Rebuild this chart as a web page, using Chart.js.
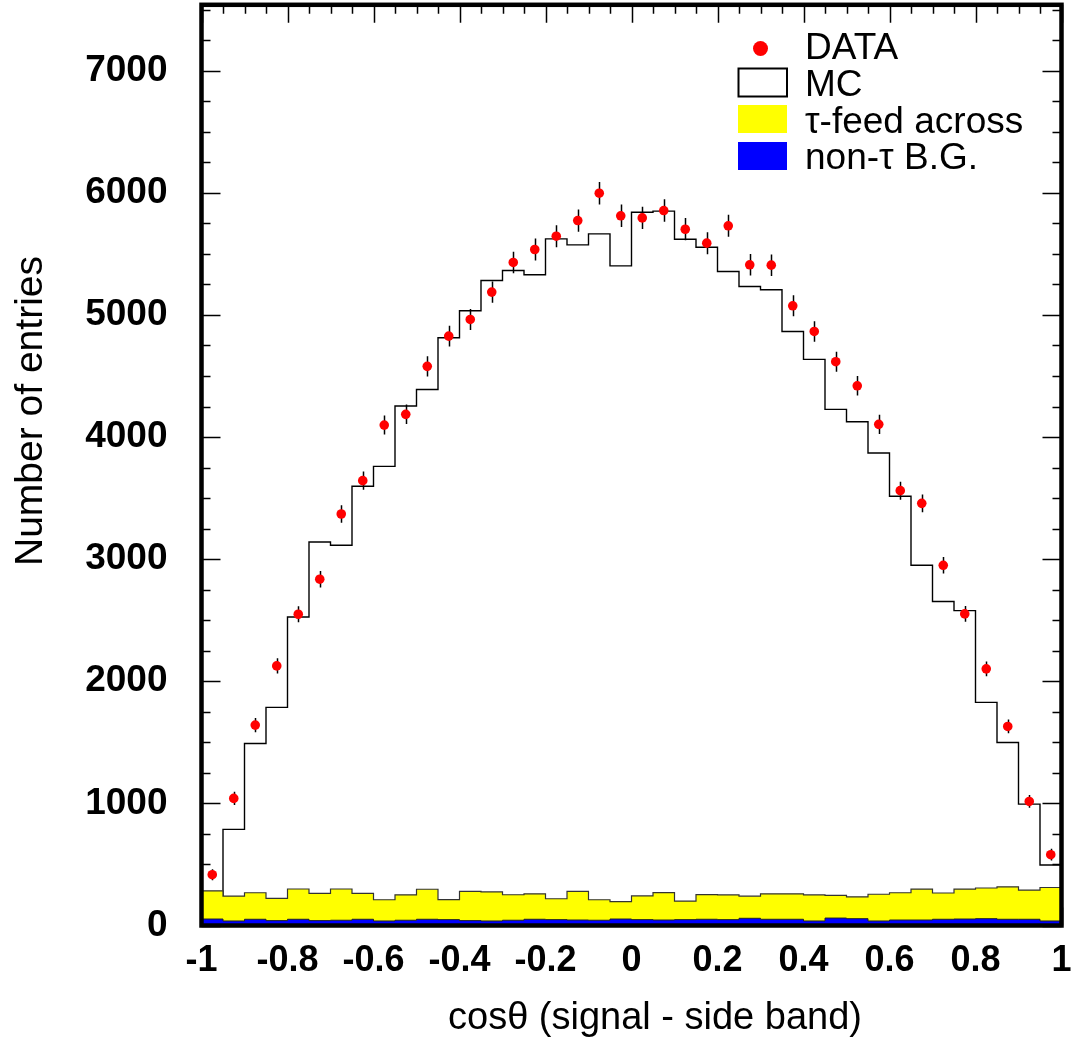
<!DOCTYPE html>
<html>
<head>
<meta charset="utf-8">
<script src="https://cdn.jsdelivr.net/npm/chart.js@4.4.0/dist/chart.umd.min.js"></script>
<style>
  html, body { margin: 0; padding: 0; background: #fff; }
  canvas { display: block; }
</style>
</head>
<body>
<canvas id="cosChart" width="1072" height="1038"></canvas>
<script>
// bin edges of cos(theta), 40 bins
const binEdges = [-1, -0.95, -0.9, -0.85, -0.8, -0.75, -0.7, -0.65, -0.6, -0.55,
                  -0.5, -0.45, -0.4, -0.35, -0.3, -0.25, -0.2, -0.15, -0.1, -0.05,
                  0, 0.05, 0.1, 0.15, 0.2, 0.25, 0.3, 0.35, 0.4, 0.45,
                  0.5, 0.55, 0.6, 0.65, 0.7, 0.75, 0.8, 0.85, 0.9, 0.95, 1];

// DATA (signal - side band)
const dataCounts = [416, 1041, 1641, 2126, 2549, 2836, 3370, 3643, 4098, 4186,
                    4579, 4827, 4963, 5187, 5430, 5536, 5645, 5773, 5997, 5812,
                    5795, 5855, 5702, 5588, 5730, 5411, 5408, 5075, 4865, 4617,
                    4420, 4104, 3561, 3457, 2950, 2552, 2102, 1630, 1016, 580];
const dataErrors = [45, 55, 58, 62, 65, 68, 72, 74, 78, 80,
                    82, 85, 86, 88, 88, 90, 90, 91, 92, 92,
                    92, 92, 91, 90, 90, 88, 88, 86, 84, 82,
                    80, 78, 74, 72, 68, 64, 60, 56, 52, 48];

// MC histogram
const mcCounts = [240, 787, 1491, 1786, 2527, 3141, 3114, 3597, 3760, 4254,
                  4390, 4813, 5034, 5282, 5364, 5329, 5623, 5574, 5664, 5402,
                  5841, 5850, 5620, 5555, 5356, 5233, 5206, 4865, 4636, 4227,
                  4126, 3869, 3515, 2950, 2653, 2579, 1827, 1499, 994, 495];

// tau feed-across (stacked on top of non-tau background)
const tauFeed = [231, 204, 217, 182, 248, 223, 256, 212, 174, 208,
                 246, 164, 240, 238, 209, 208, 171, 235, 168, 143,
                 194, 225, 152, 202, 202, 181, 208, 208, 213, 185,
                 179, 219, 223, 253, 215, 245, 251, 266, 239, 274];

// non-tau background
const nonTauBG = [53, 37, 51, 40, 51, 40, 43, 51, 37, 43,
                  51, 48, 40, 37, 43, 51, 48, 45, 43, 53,
                  48, 45, 48, 51, 48, 59, 51, 51, 37, 61,
                  56, 37, 45, 45, 51, 53, 56, 51, 51, 37];

const xTickValues = [-1, -0.8, -0.6, -0.4, -0.2, 0, 0.2, 0.4, 0.6, 0.8, 1];
const yTickValues = [0, 1000, 2000, 3000, 4000, 5000, 6000, 7000];

const FONT = "'Liberation Sans', Arial, Helvetica, sans-serif";

// step histogram points: one per left edge, plus closing point at x=1
function histPoints(values) {
    const pts = values.map((v, i) => ({ x: binEdges[i], y: v }));
    pts.push({ x: binEdges[binEdges.length - 1], y: values[values.length - 1] });
    return pts;
}

const stackTop = tauFeed.map((v, i) => v + nonTauBG[i]);
const dataPoints = dataCounts.map((v, i) => ({
    x: (binEdges[i] + binEdges[i + 1]) / 2,
    y: v,
    err: dataErrors[i]
}));

// axis labels must not push the frame inwards
function noAutoPadding(axis) {
    axis.paddingTop = 0;
    axis.paddingBottom = 0;
    axis.paddingLeft = 0;
    axis.paddingRight = 0;
}

// inward ticks + frame like a ROOT canvas
const frameAndTicks = {
    id: 'frameAndTicks',
    beforeDatasetsDraw(chart) {
        const { ctx, chartArea: a, scales: { x, y } } = chart;
        ctx.save();
        ctx.strokeStyle = '#000';
        ctx.lineWidth = 1.5;
        ctx.beginPath();
        for (let v = 0; v <= y.max; v += 250) {
            const py = Math.round(y.getPixelForValue(v)) + 0.5;
            const len = v % 1000 === 0 ? 19 : 9;
            ctx.moveTo(a.left, py); ctx.lineTo(a.left + len, py);
            ctx.moveTo(a.right, py); ctx.lineTo(a.right - len, py);
        }
        for (let k = 0; k <= 40; k++) {
            const v = -1 + k * 0.05;
            const px = Math.round(x.getPixelForValue(v)) + 0.5;
            const len = k % 4 === 0 ? 18 : 9;
            ctx.moveTo(px, a.top); ctx.lineTo(px, a.top + len);
            ctx.moveTo(px, a.bottom); ctx.lineTo(px, a.bottom - len);
        }
        ctx.stroke();
        ctx.restore();
    },
    beforeDatasetDraw(chart, args) {
        if (chart.data.datasets[args.index].label !== 'DATA') return;
        const { ctx, scales: { x, y } } = chart;
        ctx.save();
        ctx.strokeStyle = '#000';
        ctx.lineWidth = 1.5;
        ctx.beginPath();
        dataPoints.forEach(p => {
            const px = Math.round(x.getPixelForValue(p.x)) + 0.5;
            ctx.moveTo(px, y.getPixelForValue(p.y + p.err));
            ctx.lineTo(px, y.getPixelForValue(p.y - p.err));
        });
        ctx.stroke();
        ctx.restore();
    },
    afterDatasetsDraw(chart) {
        const { ctx, chartArea: a } = chart;
        ctx.save();
        ctx.strokeStyle = '#000';
        ctx.lineWidth = 4.5;
        ctx.strokeRect(a.left, a.top, a.right - a.left, a.bottom - a.top);
        ctx.restore();
    },
    afterDraw(chart) {
        const { ctx } = chart;
        ctx.save();
        ctx.fillStyle = '#000';

        // axis titles
        ctx.font = '38px ' + FONT;
        ctx.textAlign = 'center';
        ctx.textBaseline = 'alphabetic';
        ctx.fillText('cos\u03b8 (signal - side band)', 655, 1029);

        ctx.save();
        ctx.translate(42, 411);
        ctx.rotate(-Math.PI / 2);
        ctx.font = '39px ' + FONT;
        ctx.fillText('Number of entries', 0, 0);
        ctx.restore();

        // legend
        ctx.textAlign = 'left';
        ctx.font = '37px ' + FONT;
        ctx.fillStyle = '#ff0000';
        ctx.beginPath();
        ctx.arc(760.5, 48.5, 7.5, 0, Math.PI * 2);
        ctx.fill();

        ctx.fillStyle = '#fff';
        ctx.fillRect(738.5, 68.5, 48.5, 28);
        ctx.strokeStyle = '#000';
        ctx.lineWidth = 2;
        ctx.strokeRect(738.5, 68.5, 48.5, 28);

        ctx.fillStyle = '#ffff00';
        ctx.fillRect(738, 105, 49, 28);
        ctx.fillStyle = '#0000ff';
        ctx.fillRect(738, 142, 49, 28);

        ctx.fillStyle = '#000';
        ctx.fillText('DATA', 805, 59);
        ctx.fillText('MC', 805, 96);
        ctx.fillText('\u03c4-feed across', 805, 133);
        ctx.fillText('non-\u03c4 B.G.', 805, 169);
        ctx.restore();
    }
};

const ctx = document.getElementById('cosChart').getContext('2d');
new Chart(ctx, {
    type: 'line',
    data: {
        datasets: [{
            label: 'DATA',
            data: dataPoints,
            showLine: false,
            pointRadius: 4.8,
            pointBorderWidth: 0,
            pointBackgroundColor: '#ff0000',
            pointBorderColor: '#ff0000',
            order: 0
        }, {
            label: 'non-tau B.G.',
            data: histPoints(nonTauBG),
            stepped: 'before',
            borderColor: '#222',
            borderWidth: 1,
            backgroundColor: '#0000ff',
            fill: 'origin',
            pointRadius: 0,
            order: 1
        }, {
            label: 'tau-feed across',
            data: histPoints(stackTop),
            stepped: 'before',
            borderColor: '#333',
            borderWidth: 1.2,
            backgroundColor: '#ffff00',
            fill: 'origin',
            pointRadius: 0,
            order: 2
        }, {
            label: 'MC',
            data: histPoints(mcCounts),
            stepped: 'before',
            borderColor: '#000',
            borderWidth: 1.4,
            fill: false,
            pointRadius: 0,
            order: 3
        }]
    },
    options: {
        responsive: false,
        animation: false,
        devicePixelRatio: 1,
        layout: { padding: { top: 4, right: 10.5, bottom: 0, left: 0 } },
        plugins: {
            legend: { display: false },
            tooltip: { enabled: false }
        },
        scales: {
            x: {
                type: 'linear',
                min: -1,
                max: 1,
                afterBuildTicks: axis => { axis.ticks = xTickValues.map(v => ({ value: v })); },
                afterFit: axis => { axis.height = 112.5; noAutoPadding(axis); },
                grid: { display: false, drawTicks: false },
                border: { display: false },
                ticks: {
                    autoSkip: false,
                    maxRotation: 0,
                    padding: 14,
                    color: '#000',
                    font: { family: FONT, size: 36, weight: 'bold' },
                    callback: v => String(parseFloat(v.toFixed(1)))
                }
            },
            y: {
                min: 0,
                max: 7540,
                afterBuildTicks: axis => { axis.ticks = yTickValues.map(v => ({ value: v })); },
                afterFit: axis => { axis.width = 201.5; noAutoPadding(axis); },
                grid: { display: false, drawTicks: false },
                border: { display: false },
                ticks: {
                    autoSkip: false,
                    padding: 34,
                    color: '#000',
                    font: { family: FONT, size: 37, weight: 'bold' },
                    callback: v => String(v)
                }
            }
        }
    },
    plugins: [frameAndTicks]
});
</script>
</body>
</html>
